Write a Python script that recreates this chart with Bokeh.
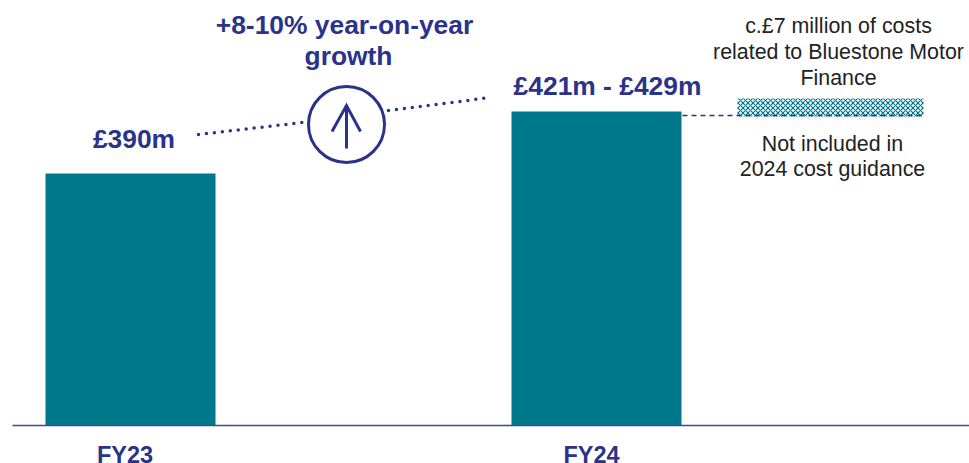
from bokeh.embed import file_html
from bokeh.resources import INLINE
from bokeh.plotting import figure
from bokeh.models import Range1d
from bokeh.core.properties import value

# Data (GBP m)
categories = ["FY23", "FY24"]
bar_values = [390, 425]
bar_labels = ["£390m", "£421m - £429m"]
axis_floor = 247.7
bluestone_low = 422.2
bluestone_high = 432.3
growth_lines = ["+8-10% year-on-year", "growth"]
cost_lines = ["c.£7 million of costs", "related to Bluestone Motor", "Finance"]
guidance_lines = ["Not included in", "2024 cost guidance"]

NAVY = "#2A3389"
TEAL = "#00788C"
FONT = "Liberation Sans"

W, H = 969, 463
PX_PER_CAT = 466.0
PX_PER_UNIT = 1.771

def xd(px):
    return (px - 130) / PX_PER_CAT

def yd(py):
    return 390 + (173 - py) / PX_PER_UNIT

p = figure(width=W, height=H, output_backend="svg", toolbar_location=None,
           x_range=Range1d(xd(0), xd(W)), y_range=Range1d(yd(H), yd(0)),
           min_border=0, outline_line_color=None)
p.xaxis.visible = False
p.yaxis.visible = False
p.grid.visible = False
p.background_fill_color = "white"

xs = list(range(len(categories)))
bar_w = 170 / PX_PER_CAT
p.quad(left=[x - bar_w / 2 for x in xs], right=[x + bar_w / 2 for x in xs],
       bottom=axis_floor, top=bar_values, fill_color=TEAL, line_color=None)

# baseline
p.line([xd(12), xd(969)], [axis_floor, axis_floor], line_color="#3D4795", line_width=1.5)

# hatched cost box and dashed connector
p.quad(left=[xd(737)], right=[xd(923)], bottom=[bluestone_low], top=[bluestone_high],
       fill_color="white", line_color=None, hatch_pattern="diagonal_cross",
       hatch_color=TEAL, hatch_scale=5, hatch_weight=1.2)
p.line([xd(682), xd(922)], [yd(115), yd(115)], line_color=NAVY, line_width=1.3, line_dash="5 4")

# dotted growth line
for a, b in [((198, 134), (302, 122)), ((388, 110), (490, 97))]:
    p.line([xd(a[0]), xd(b[0])], [yd(a[1]), yd(b[1])], line_color=NAVY, line_width=3.5,
           line_dash="0 8", line_cap="round")

# circle with arrow
p.scatter([xd(346)], [yd(124)], size=76, marker="circle", fill_color="white",
          line_color=NAVY, line_width=3)
p.line([xd(346), xd(346)], [yd(148), yd(106)], line_color=NAVY, line_width=3)
p.line([xd(331.5), xd(346), xd(360)], [yd(131), yd(105), yd(131)], line_color=NAVY, line_width=3,
       line_join="miter")

def txt(px, baseline, s, size, color, bold=False):
    # the svg text sits about 0.36em below the given anchor
    p.text([xd(px)], [yd(baseline - 0.36 * size)], text=[s], text_font=value(FONT),
           text_font_size=f"{size}px",
           text_font_style="bold" if bold else "normal", text_color=color,
           text_align="center", text_baseline="alphabetic")

txt(124.5, 462.5, categories[0], 23.5, NAVY, True)
txt(591, 462.5, categories[1], 23.5, NAVY, True)
txt(133.5, 148, bar_labels[0], 26.4, NAVY, True)
txt(607, 95, bar_labels[1], 26.4, NAVY, True)
txt(344, 34.5, growth_lines[0], 26.4, NAVY, True)
txt(348, 65, growth_lines[1], 26.4, NAVY, True)
for py, s in zip([33.5, 59.5, 85], cost_lines):
    txt(838, py, s, 21.4, "#222222")
for py, s in zip([151.5, 176], guidance_lines):
    txt(832, py, s, 21.4, "#222222")

open("out.html", "w").write(file_html(p, INLINE))
